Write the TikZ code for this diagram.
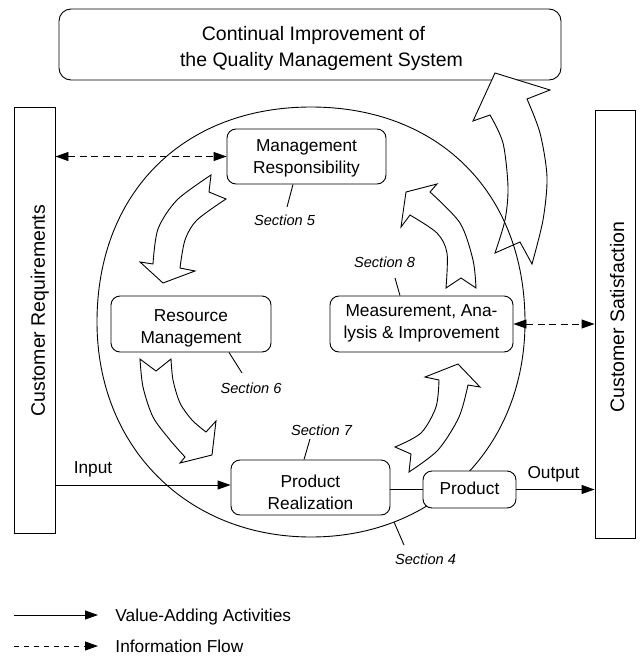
\documentclass[tikz,border=0pt]{standalone}
\usepackage{fontspec}
\setmainfont{Liberation Sans}
\usetikzlibrary{arrows.meta}
\begin{document}
\begin{tikzpicture}[x=1pt,y=-1pt,line width=0.9pt,
  >={Triangle[length=13pt,width=9pt]},
  box/.style={draw,fill=white,rounded corners=9pt,inner sep=0pt},
  bar/.style={draw,fill=white,inner sep=0pt},
  boxtext/.style={align=center,inner sep=0pt,font=\fontsize{17.3}{22}\selectfont},
  big/.style={inner sep=0pt,font=\fontsize{19.5}{24}\selectfont},
  lbl/.style={inner sep=0pt,font=\fontsize{17.3}{20}\selectfont},
  sec/.style={inner sep=0pt,font=\fontsize{14.6}{17}\selectfont\itshape},
  flow/.style={->},
  info/.style={<->,dash pattern=on 7pt off 4.5pt},
  curved/.style={draw,fill=white,line join=miter}]
\useasboundingbox (0,0) rectangle (642,659);

% top box
\node[box,rounded corners=12pt,minimum width=502pt,minimum height=71pt] (ci) at (310,44.5) {};
\node[big,anchor=base] (ci1) at (313.5,40.7) {Continual Improvement of};
\node[big,anchor=base] (ci2) at (321.5,66.7) {the Quality Management System};

% curved arrows
\draw[curved] (520,242) -- plot[smooth] coordinates {(495,253) (505,220) (508,187) (503,143) (490,115)} -- (473,121) -- (495,73) -- (550,90) -- plot[smooth] coordinates {(527,99) (540,133) (547,177) (543,220) (532,264)} -- cycle;
\draw[curved] (209,192) -- plot[smooth] coordinates {(211,175) (177,200) (158,229) (153,264)} -- (140,262) -- (163,283) -- (195,271) -- plot[smooth] coordinates {(180,268) (185,240) (197,220) (226,199)} -- cycle;
\draw[curved] (156,371) -- plot[smooth] coordinates {(140,359) (143,387) (153,417) (170,440) (185,457)} -- (180,463) -- (212,455) -- (216,421) -- plot[smooth] coordinates {(206,432) (192,420) (180,403) (173,380) (171,359)} -- cycle;
\draw[curved] (411,454) -- plot[smooth] coordinates {(395,447) (421,433) (436,407) (439,380)} -- (425,377) -- (458,364) -- (480,387) -- plot[smooth] coordinates {(468,385) (459,417) (438,450) (409,472)} -- cycle;
\draw[curved] (461,278) -- plot[smooth] coordinates {(446,288) (447,253) (437,233) (410,215)} -- (401,227) -- (406,192) -- (437,184) -- plot[smooth] coordinates {(430,192) (460,223) (473,260) (476,288)} -- cycle;

% big circle (Section 4)
\draw (525,322) .. controls (525,447) and (435,537) .. (311,537) .. controls (187,537) and (97,447) .. (97,322) .. controls (97,193) and (183,107) .. (311,107) .. controls (439,107) and (525,193) .. (525,322) -- cycle;

% side bars
\node[bar,minimum width=41pt,minimum height=426pt] (cr) at (34.5,320) {};
\node[big,rotate=90,anchor=base] (crt) at (45,310.5) {Customer Requirements};
\node[bar,minimum width=40pt,minimum height=428pt] (cs) at (615,324) {};
\node[big,rotate=90,anchor=base] (cst) at (624,317) {Customer Satisfaction};

% process boxes
\node[box,minimum width=159pt,minimum height=55pt] (mr) at (306.5,156.5) {};
\node[boxtext] (mrt) at (306.5,158.2) {Management\\Responsibility};
\node[box,minimum width=160pt,minimum height=56pt] (rm) at (191,324) {};
\node[boxtext] (rmt) at (191,328.5) {Resource\\Management};
\node[box,minimum width=183pt,minimum height=56pt] (ma) at (421.5,324) {};
\node[boxtext] (mat) at (421.5,323.5) {Measurement, Ana-\\lysis \& Improvement};
\node[box,minimum width=159pt,minimum height=55pt] (pr) at (310.5,487.5) {};
\node[boxtext] (prt) at (310.5,492.5) {Product\\Realization};
\node[box,minimum width=93pt,minimum height=37pt] (prod) at (469.5,489.5) {};
\node[boxtext] (prodt) at (469.5,488.7) {Product};

% connectors
\draw[info] (mr.west -| cr.east) -- (mr.west);
\draw[info] (ma.east) -- (ma.east -| cs.west);
\coordinate (pin) at ([yshift=2.5pt]pr.west);
\draw[flow] (pin -| cr.east) -- (pin);
\draw (pr.east |- prod.west) -- (prod.west);
\draw[flow] (prod.east) -- (prod.east -| cs.west);
\node[lbl,anchor=base] (inp) at (93,473) {Input};
\node[lbl,anchor=base] (outp) at (553.5,478) {Output};

% section labels
\node[sec,anchor=base] (s5) at (284.5,225) {Section 5};
\node[sec,anchor=base] (s6) at (251,393) {Section 6};
\node[sec,anchor=base] (s8) at (384.5,267) {Section 8};
\node[sec,anchor=base] (s7) at (321.5,435) {Section 7};
\node[sec,anchor=base] (s4) at (425.5,564) {Section 4};
\coordinate (e5) at (287,207);
\draw ([xshift=-13.5pt]mr.south) -- (e5);
\coordinate (e6) at (242,373);
\draw ([xshift=38pt]rm.south) -- (e6);
\coordinate (e8) at (395,278);
\draw ([xshift=-21.5pt]ma.north) -- (e8);
\coordinate (e7) at (310,439);
\draw ([xshift=-6.5pt]pr.north) -- (e7);
\coordinate (c4) at (394,522);
\coordinate (e4) at (404,545);
\draw (c4) -- (e4);

% legend
\coordinate (la1) at (14,615);
\coordinate (lb1) at (98,615);
\draw[flow] (la1) -- (lb1);
\node[lbl,anchor=base west] (lt1) at (115,621.5) {Value-Adding Activities};
\coordinate (la2) at (14,646);
\coordinate (lb2) at (98,646);
\draw[->,dash pattern=on 5pt off 5pt] (la2) -- (lb2);
\node[lbl,anchor=base west] (lt2) at (115,652.5) {Information Flow};
\end{tikzpicture}
\end{document}
